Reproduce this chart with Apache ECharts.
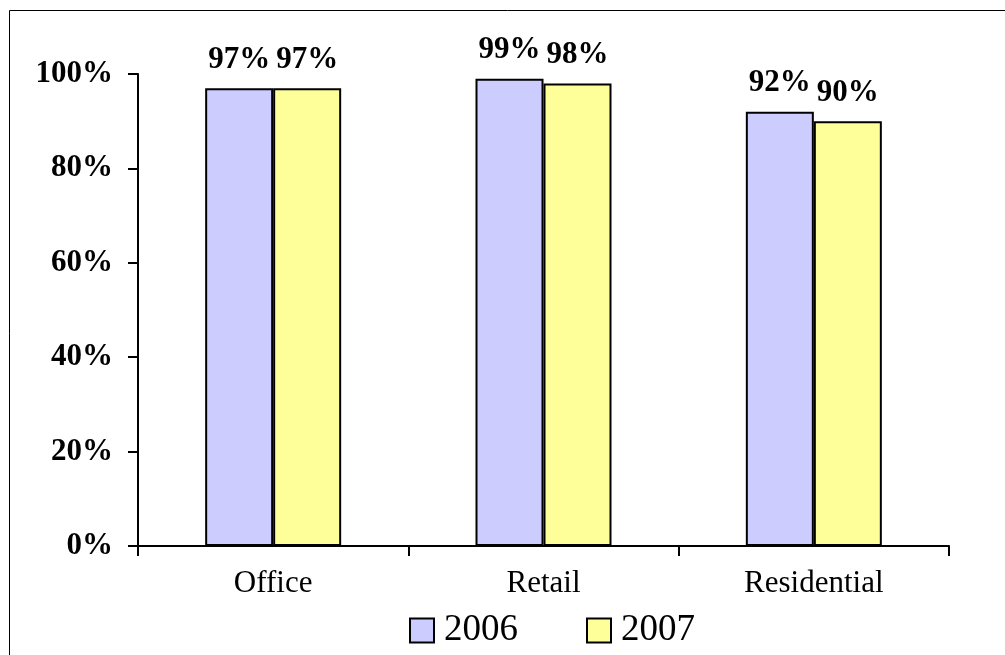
<!DOCTYPE html>
<html>
<head>
<meta charset="utf-8">
<script src="https://cdn.jsdelivr.net/npm/echarts@6/dist/echarts.min.js"></script>
<style>
    html, body { margin: 0; padding: 0; background: #fff; }
    #chart { width: 1005px; height: 655px; }
</style>
</head>
<body>
<div id="chart"></div>
<script>
    // 数据
    const categories = ['Office', 'Retail', 'Residential']
    const years = ['2006', '2007']
    const values2006 = [97, 99, 92]
    const values2007 = [97, 98, 90]
    const yTicks = [0, 20, 40, 60, 80, 100]

    const serif = '"Liberation Serif", "Times New Roman", serif'

    const chart = echarts.init(document.getElementById('chart'))
    chart.setOption({
        animation: false,
        textStyle: {fontFamily: serif},
        graphic: [{
            type: 'rect',
            shape: {x: 9.5, y: 10.5, width: 1100, height: 800},
            style: {fill: 'none', stroke: '#000', lineWidth: 1},
            silent: true
        }],
        grid: {left: 138, right: 56, top: 74, bottom: 109},
        legend: {
            data: years,
            bottom: 1,
            left: 404,
            itemWidth: 24,
            itemHeight: 24,
            itemGap: 68,
            icon: 'rect',
            itemStyle: {borderColor: '#000', borderWidth: 2},
            textStyle: {fontFamily: serif, fontSize: 37, color: '#000', padding: [0, 0, 0, 5]}
        },
        xAxis: {
            type: 'category',
            data: categories,
            axisLine: {lineStyle: {color: '#000', width: 2}},
            axisTick: {show: true, length: 10, lineStyle: {color: '#000', width: 2}},
            axisLabel: {fontFamily: serif, fontSize: 31, color: '#000', margin: 22}
        },
        yAxis: {
            type: 'value',
            min: yTicks[0],
            max: yTicks[yTicks.length - 1],
            interval: 20,
            axisLine: {show: true, lineStyle: {color: '#000', width: 2}},
            axisTick: {show: true, length: 10, lineStyle: {color: '#000', width: 2}},
            splitLine: {show: false},
            axisLabel: {
                formatter: '{value}%',
                fontFamily: serif, fontSize: 31, fontWeight: 'bold', color: '#000', margin: 25
            }
        },
        series: [{
            name: years[0],
            type: 'bar',
            data: values2006,
            barWidth: 68,
            barGap: '0%',
            itemStyle: {color: '#CCCCFF', borderColor: '#000', borderWidth: 2},
            label: {
                show: true, position: 'top', distance: 13, formatter: '{c}%',
                fontFamily: serif, fontSize: 31, fontWeight: 'bold', color: '#000'
            }
        }, {
            name: years[1],
            type: 'bar',
            data: values2007,
            barWidth: 68,
            itemStyle: {color: '#FFFF99', borderColor: '#000', borderWidth: 2},
            label: {
                show: true, position: 'top', distance: 13, formatter: '{c}%',
                fontFamily: serif, fontSize: 31, fontWeight: 'bold', color: '#000'
            }
        }]
    })
</script>
</body>
</html>
